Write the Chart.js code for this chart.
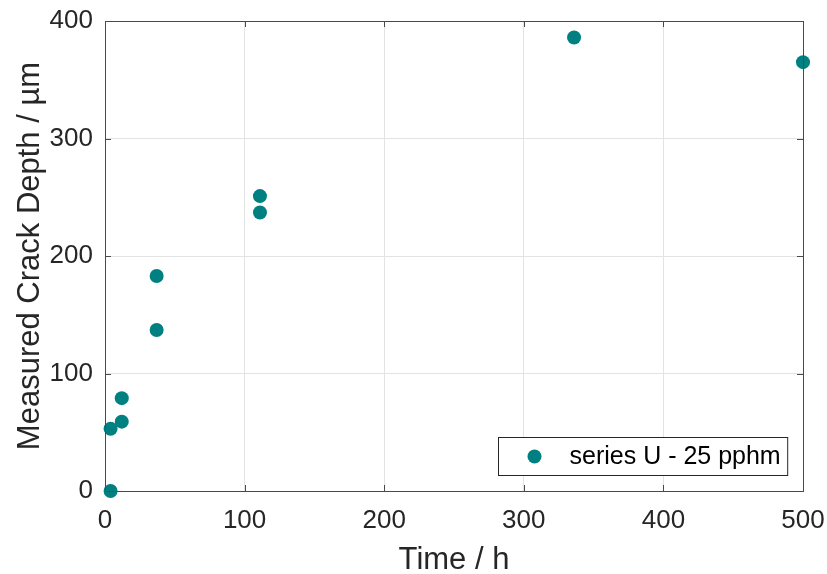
<!DOCTYPE html>
<html>
<head>
<meta charset="utf-8">
<script src="https://cdn.jsdelivr.net/npm/chart.js@4"></script>
<style>
  html, body { margin: 0; padding: 0; background: #fff; }
  #wrap { width: 827px; height: 574px; }
</style>
</head>
<body>
<div id="wrap"><canvas id="chart" width="827" height="574"></canvas></div>
<script>
// --- Data ---
const timeHours = [4, 4, 12, 12, 37, 37, 111, 111, 336, 500];
const crackDepth = [0, 53, 59, 79, 137, 183, 237, 251, 386, 365];
const seriesLabel = 'series U - 25 pphm';
const xTicks = [0, 100, 200, 300, 400, 500];
const yTicks = [0, 100, 200, 300, 400];

const FONT = "'Liberation Sans', Arial, Helvetica, sans-serif";
const TEAL = '#008080';
const AXIS = '#4a4a4a';
const TEXT = '#262626';

// Box round the plot, inward ticks and the legend inside the plot area
const boxPlugin = {
    id: 'box',
    afterDatasetsDraw(chart) {
        const { ctx, chartArea: a, scales } = chart;
        const tl = 6;
        ctx.save();
        ctx.strokeStyle = AXIS;
        ctx.lineWidth = 1;
        ctx.beginPath();
        xTicks.forEach(v => {
            const x = Math.round(scales.x.getPixelForValue(v)) + 0.5;
            ctx.moveTo(x, a.bottom); ctx.lineTo(x, a.bottom - tl);
            ctx.moveTo(x, a.top); ctx.lineTo(x, a.top + tl);
        });
        yTicks.forEach(v => {
            const y = Math.round(scales.y.getPixelForValue(v)) + 0.5;
            ctx.moveTo(a.left, y); ctx.lineTo(a.left + tl, y);
            ctx.moveTo(a.right, y); ctx.lineTo(a.right - tl, y);
        });
        ctx.stroke();
        ctx.strokeRect(Math.round(a.left) + 0.5, Math.round(a.top) + 0.5,
            Math.round(a.right - a.left), Math.round(a.bottom - a.top));

        // legend
        ctx.font = '25px ' + FONT;
        const tw = ctx.measureText(seriesLabel).width;
        const w = tw + 78, h = 38;
        const x0 = Math.round(a.right - 16 - w) + 0.5;
        const y0 = Math.round(a.bottom - 16 - h) + 0.5;
        ctx.fillStyle = '#fff';
        ctx.fillRect(x0, y0, w, h);
        ctx.strokeStyle = '#262626';
        ctx.strokeRect(x0, y0, w, h);
        ctx.fillStyle = TEAL;
        ctx.beginPath();
        ctx.arc(x0 + 36, y0 + h / 2, 7, 0, Math.PI * 2);
        ctx.fill();
        ctx.fillStyle = '#000';
        ctx.textBaseline = 'middle';
        ctx.textAlign = 'left';
        ctx.fillText(seriesLabel, x0 + 71, y0 + h / 2 + 1);
        ctx.restore();
    }
};

const ctx = document.getElementById('chart').getContext('2d');
new Chart(ctx, {
    type: 'scatter',
    data: {
        datasets: [{
            label: seriesLabel,
            data: timeHours.map((t, i) => ({ x: t, y: crackDepth[i] })),
            backgroundColor: TEAL,
            borderWidth: 0,
            pointRadius: 7,
            pointHoverRadius: 7,
            clip: false
        }]
    },
    options: {
        responsive: false,
        animation: false,
        layout: { padding: { top: 21, right: 24, left: 0, bottom: 0 } },
        plugins: { legend: { display: false }, tooltip: { enabled: false } },
        scales: {
            x: {
                type: 'linear',
                min: 0, max: 500,
                afterFit(scale) {
                    scale.height = 83;
                    scale.paddingLeft = 0;
                    scale.paddingRight = 0;
                },
                afterBuildTicks(scale) { scale.ticks = xTicks.map(v => ({ value: v })); },
                grid: { color: '#e3e3e3', drawTicks: false },
                border: { display: false },
                ticks: { color: TEXT, padding: 14, font: { family: FONT, size: 26 }, maxRotation: 0 },
                title: {
                    display: true, text: 'Time / h', color: TEXT,
                    font: { family: FONT, size: 31, lineHeight: 1 },
                    padding: { top: 0, bottom: -2 }
                }
            },
            y: {
                type: 'linear',
                min: 0, max: 400,
                afterFit(scale) {
                    scale.width = 105;
                    scale.paddingTop = 0;
                    scale.paddingBottom = 0;
                },
                afterBuildTicks(scale) { scale.ticks = yTicks.map(v => ({ value: v })); },
                grid: { color: '#e3e3e3', drawTicks: false },
                border: { display: false },
                ticks: { color: TEXT, padding: 12, font: { family: FONT, size: 26 } },
                title: {
                    display: true, text: 'Measured Crack Depth / µm', color: TEXT,
                    font: { family: FONT, size: 31, lineHeight: 1 },
                    padding: { top: 15, bottom: 0 }
                }
            }
        }
    },
    plugins: [boxPlugin]
});
</script>
</body>
</html>
